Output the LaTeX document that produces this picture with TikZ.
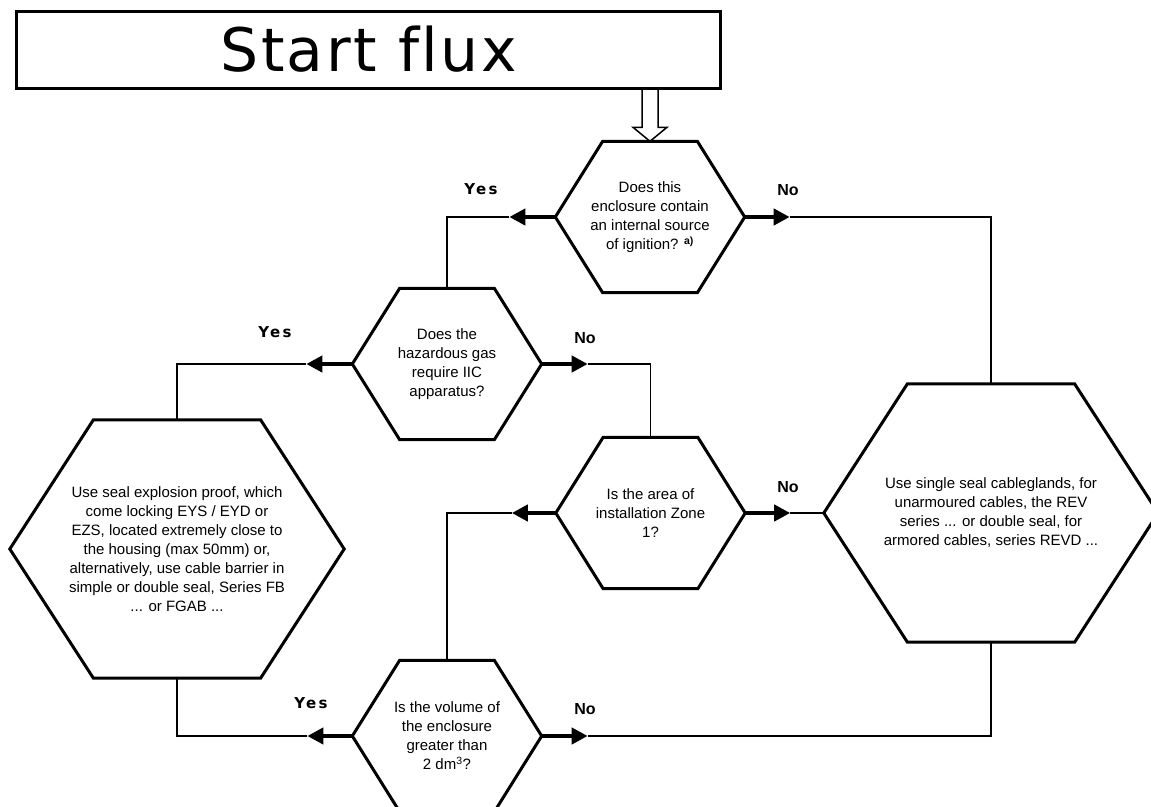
\documentclass[tikz,border=0pt]{standalone}
\usepackage{fontspec}
\setmainfont{Liberation Sans}
\newfontfamily\titlefont{DejaVu Sans}[LetterSpace=4, Ligatures=NoCommon]
\newfontfamily\yesfont{DejaVu Sans}[LetterSpace=15]
\usetikzlibrary{calc, positioning, arrows.meta}

\tikzset{
  startbox/.style={draw, line width=3pt, minimum width=704pt, minimum height=77pt,
    inner sep=0pt, font=\titlefont\fontsize{60}{60}\selectfont},
  qhex/.style={minimum width=189pt, minimum height=151pt, inner sep=0pt,
    align=center, font=\fontsize{15}{19}\selectfont},
  rhex/.style={qhex, minimum width=334pt, minimum height=258pt},
  hexline/.style={line width=3pt, line join=miter},
  hollow/.style={line width=1.5pt, line join=miter},
  flowthick/.style={line width=4pt, -{Triangle[length=16pt, width=16pt]}},
  flowthin/.style={line width=1.8pt},
  yeslabel/.style={inner sep=0pt, font=\yesfont\bfseries\fontsize{15}{15}\selectfont},
  nolabel/.style={inner sep=0pt, font=\bfseries\fontsize{16}{16}\selectfont}
}

% hexagon drawn round the box of a node
\newcommand{\hexoutline}[1]{%
  \draw[hexline] (#1.west) -- ($(#1.north west)!.25!(#1.north east)$)
    -- ($(#1.north west)!.75!(#1.north east)$) -- (#1.east)
    -- ($(#1.south west)!.75!(#1.south east)$)
    -- ($(#1.south west)!.25!(#1.south east)$) -- cycle;}

\begin{document}
\begin{tikzpicture}[>=stealth, x=1pt, y=-1pt]

    % =================================================================
    % 1. PAGE FRAME
    % =================================================================
    \useasboundingbox (0,0) rectangle (1151,806);

    % =================================================================
    % 2. START BOX, QUESTIONS AND ANSWERS
    % =================================================================
    \node[startbox] (start) at (368.7, 49.5) {Start flux};

    % questions
    \node[qhex] (q1) at (650, 217) {Does this\\enclosure contain\\an internal source\\of ignition? \textsuperscript{\bfseries a)}};
    \node[qhex] (q2) at (447, 364) {Does the\\hazardous gas\\require IIC\\apparatus?};
    \node[qhex] (q3) at (650.5, 513) {Is the area of\\installation Zone\\1?};
    \node[qhex] (q4) at (447, 736) {Is the volume of\\the enclosure\\greater than\\2 dm\textsuperscript{3}?};

    % answers
    \node[rhex] (r1) at (991, 513) {Use single seal cableglands, for\\unarmoured cables, the REV\\series ... or double seal, for\\armored cables, series REVD ...};
    \node[rhex] (r2) at (177, 549) {Use seal explosion proof, which\\come locking EYS / EYD or\\EZS, located extremely close to\\the housing (max 50mm) or,\\alternatively, use cable barrier in\\simple or double seal, Series FB\\... or FGAB ...};

    \foreach \n in {q1, q2, q3, q4, r1, r2} {\hexoutline{\n}}

    % =================================================================
    % 3. HOLLOW ARROW FROM THE START BOX
    % =================================================================
    \coordinate (sa) at (start.south -| q1.north);
    \coordinate (hb) at ($(q1.north)+(0,-14)$);
    \draw[hollow] ($(sa)+(-8,0)$) -- ($(hb)+(-8,0)$) -- ($(hb)+(-17,0)$)
        -- (q1.north) -- ($(hb)+(17,0)$) -- ($(hb)+(8,0)$) -- ($(sa)+(8,0)$);

    % =================================================================
    % 4. CONNECTORS (THICK STUB WITH TIP, THEN THIN LINE)
    % =================================================================
    \coordinate (q1y) at ($(q1.west)+(-46,0)$);
    \coordinate (q1n) at ($(q1.east)+(45,0)$);
    \coordinate (q2y) at ($(q2.west)+(-46,0)$);
    \coordinate (q2n) at ($(q2.east)+(46,0)$);
    \coordinate (q3y) at ($(q3.west)+(-44,0)$);
    \coordinate (q3n) at ($(q3.east)+(45,0)$);
    \coordinate (q4y) at ($(q4.west)+(-45,0)$);
    \coordinate (q4n) at ($(q4.east)+(46,0)$);

    \draw[flowthick] (q1.west) -- (q1y);
    \draw[flowthick] (q1.east) -- (q1n);
    \draw[flowthick] (q2.west) -- (q2y);
    \draw[flowthick] (q2.east) -- (q2n);
    \draw[flowthick] (q3.west) -- (q3y);
    \draw[flowthick] (q3.east) -- (q3n);
    \draw[flowthick] (q4.west) -- (q4y);
    \draw[flowthick] (q4.east) -- (q4n);

    \draw[flowthin] (q1y) -| (q2.north);
    \draw[flowthin] (q1n) -| (r1.north);
    \draw[flowthin] (q2y) -| (r2.north);
    \draw[flowthin] (q2n) -| (q3.north);
    \draw[flowthin] (q3y) -| (q4.north);
    \draw[flowthin] (q3n) -- (r1.west);
    \draw[flowthin] (q4y) -| (r2.south);
    \draw[flowthin] (q4n) -| (r1.south);

    % =================================================================
    % 5. YES / NO LABELS
    % =================================================================
    \node[yeslabel] (q1yes) at (481, 189) {Yes};
    \node[nolabel]  (q1no)  at (788, 190) {No};
    \node[yeslabel] (q2yes) at (275, 332) {Yes};
    \node[nolabel]  (q2no)  at (585, 338) {No};
    \node[nolabel]  (q3no)  at (788, 487) {No};
    \node[yeslabel] (q4yes) at (311, 703) {Yes};
    \node[nolabel]  (q4no)  at (585, 709) {No};

\end{tikzpicture}
\end{document}
